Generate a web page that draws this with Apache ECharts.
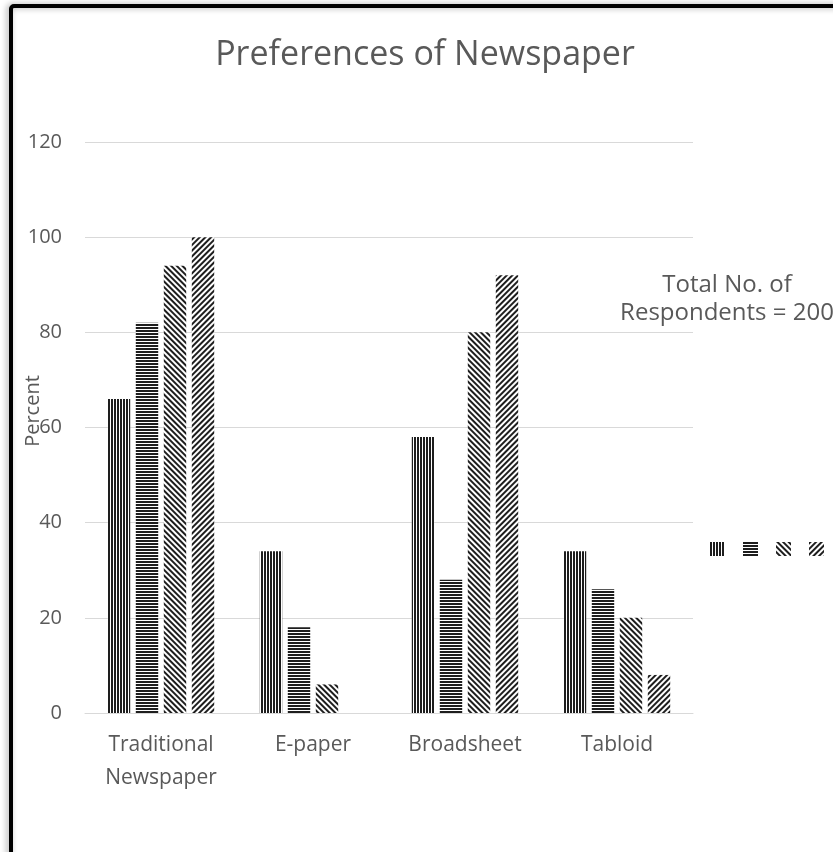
<!DOCTYPE html>
<html>
<head>
<meta charset="utf-8">
<script src="https://cdn.jsdelivr.net/npm/echarts@6/dist/echarts.min.js"></script>
<style>
html,body{margin:0;padding:0;background:#fff;}
#chart{width:833px;height:852px;}
</style>
</head>
<body>
<div id="chart"></div>
<script>
// ---- data ----
var categories = ['Traditional\nNewspaper', 'E-paper', 'Broadsheet', 'Tabloid'];
var seriesNames = ['Series 1', 'Series 2', 'Series 3', 'Series 4'];
var series1 = [66, 34, 58, 34];
var series2 = [82, 18, 28, 26];
var series3 = [94, 6, 80, 20];
var series4 = [100, 0, 92, 8];
var yTicks = [0, 20, 40, 60, 80, 100, 120];
var titleText = 'Preferences of Newspaper';
var yAxisName = 'Percent';
var noteLines = ['Total No. of', 'Respondents = 200'];

var stripeColor = '#1e1e1e';
var decals = [
  { symbol: 'rect', symbolSize: 1, color: stripeColor, dashArrayX: [2, 1], dashArrayY: [1, 0], rotation: 0 },
  { symbol: 'rect', symbolSize: 1, color: stripeColor, dashArrayX: [1, 0], dashArrayY: [2, 1], rotation: 0 },
  { symbol: 'rect', symbolSize: 1, color: stripeColor, dashArrayX: [2, 2], dashArrayY: [1, 0], rotation: -Math.PI / 4 },
  { symbol: 'rect', symbolSize: 1, color: stripeColor, dashArrayX: [2, 2], dashArrayY: [1, 0], rotation: Math.PI / 4 }
];
var allValues = [series1, series2, series3, series4];

var chart = echarts.init(document.getElementById('chart'), null, { renderer: 'canvas' });

var font = '"Open Sans", "Noto Sans", sans-serif';
var gray = '#595959';

var option = {
  backgroundColor: '#ffffff',
  animation: false,
  title: {
    text: titleText,
    left: 420,
    textAlign: 'center',
    top: 33,
    textStyle: { fontFamily: font, fontSize: 34, fontWeight: 'normal', color: gray }
  },
  legend: {
    left: 705,
    top: 537,
    orient: 'horizontal',
    itemWidth: 15,
    itemHeight: 14,
    itemGap: 18,
    icon: 'rect',
    formatter: function () { return ''; },
    data: seriesNames
  },
  grid: { left: 85, right: 140, top: 142, bottom: 139, containLabel: false },
  xAxis: {
    type: 'category',
    data: categories,
    axisLine: { show: true, lineStyle: { color: '#d9d9d9', width: 1 } },
    axisTick: { show: false },
    axisLabel: { fontFamily: font, fontSize: 21, color: gray, lineHeight: 33, margin: 16, interval: 0 }
  },
  yAxis: {
    type: 'value',
    min: yTicks[0],
    max: yTicks[yTicks.length - 1],
    interval: yTicks[1] - yTicks[0],
    axisLine: { show: false },
    axisTick: { show: false },
    splitLine: { lineStyle: { color: '#d9d9d9', width: 1 } },
    axisLabel: { fontFamily: font, fontSize: 20, color: gray, margin: 23 }
  },
  series: seriesNames.map(function (n, i) {
    return {
      name: n,
      type: 'bar',
      data: allValues[i],
      barGap: '25%',
      barCategoryGap: '30%',
      itemStyle: { color: '#ffffff', decal: decals[i] }
    };
  }),
  graphic: [
    {
      type: 'rect',
      shape: { x: 11, y: 6, width: 1000, height: 1000, r: 3 },
      style: { fill: null, stroke: '#000', lineWidth: 4, shadowBlur: 6, shadowColor: 'rgba(0,0,0,0.35)', shadowOffsetX: -2 },
      silent: true,
      z: 100
    },
    {
      type: 'text',
      x: 33,
      y: 411,
      rotation: Math.PI / 2,
      style: {
        text: yAxisName,
        align: 'center',
        verticalAlign: 'middle',
        fontFamily: font,
        fontSize: 20,
        fill: gray
      },
      z: 50
    },
    {
      type: 'text',
      x: 727,
      y: 299,
      style: {
        text: noteLines.join('\n'),
        align: 'center',
        verticalAlign: 'middle',
        fontFamily: font,
        fontSize: 24,
        lineHeight: 28,
        fill: gray
      },
      z: 50
    }
  ]
};
chart.setOption(option);
</script>
</body>
</html>
